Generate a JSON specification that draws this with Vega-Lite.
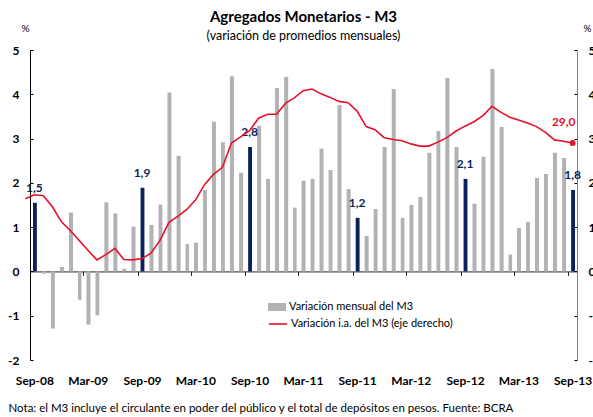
{
  "$schema": "https://vega.github.io/schema/vega-lite/v6.json",
  "width": 547,
  "height": 310,
  "autosize": {"type": "none"},
  "padding": {"left": 30, "top": 50, "right": 16, "bottom": 57},
  "background": "white",
  "title": {
    "text": "Agregados Monetarios - M3",
    "subtitle": "(variación de promedios mensuales)",
    "anchor": "middle",
    "frame": "group",
    "offset": -19,
    "font": "Lato",
    "fontSize": 15,
    "fontWeight": "bold",
    "color": "#000000",
    "subtitleFont": "Lato",
    "subtitleFontSize": 12.5,
    "subtitleColor": "#000000",
    "subtitlePadding": 5
  },
  "config": {"view": {"stroke": null}, "font": "Lato", "axis": {"grid": false}},
  "data": {
    "values": [
      {"mes": "2008-08-01", "mensual": null, "ia": 16.4},
      {"mes": "2008-09-01", "mensual": 1.55, "ia": 17.3, "etiqueta": "1,5"},
      {"mes": "2008-10-01", "mensual": -0.05, "ia": 17.1},
      {"mes": "2008-11-01", "mensual": -1.29, "ia": 14.6},
      {"mes": "2008-12-01", "mensual": 0.1, "ia": 11.2},
      {"mes": "2009-01-01", "mensual": 1.33, "ia": 9.2},
      {"mes": "2009-02-01", "mensual": -0.64, "ia": 7.0},
      {"mes": "2009-03-01", "mensual": -1.2, "ia": 4.8},
      {"mes": "2009-04-01", "mensual": -0.99, "ia": 2.6},
      {"mes": "2009-05-01", "mensual": 1.56, "ia": 3.8},
      {"mes": "2009-06-01", "mensual": 1.31, "ia": 5.2},
      {"mes": "2009-07-01", "mensual": 0.06, "ia": 2.7},
      {"mes": "2009-08-01", "mensual": 1.01, "ia": 2.6},
      {"mes": "2009-09-01", "mensual": 1.89, "ia": 2.9, "etiqueta": "1,9"},
      {"mes": "2009-10-01", "mensual": 1.05, "ia": 4.1},
      {"mes": "2009-11-01", "mensual": 1.51, "ia": 7.0},
      {"mes": "2009-12-01", "mensual": 4.04, "ia": 11.1},
      {"mes": "2010-01-01", "mensual": 2.61, "ia": 12.5},
      {"mes": "2010-02-01", "mensual": 0.62, "ia": 14.0},
      {"mes": "2010-03-01", "mensual": 0.65, "ia": 16.1},
      {"mes": "2010-04-01", "mensual": 1.84, "ia": 19.6},
      {"mes": "2010-05-01", "mensual": 3.38, "ia": 21.9},
      {"mes": "2010-06-01", "mensual": 2.92, "ia": 23.5},
      {"mes": "2010-07-01", "mensual": 4.41, "ia": 29.0},
      {"mes": "2010-08-01", "mensual": 2.23, "ia": 30.4},
      {"mes": "2010-09-01", "mensual": 2.81, "ia": 31.8, "etiqueta": "2,8"},
      {"mes": "2010-10-01", "mensual": 3.29, "ia": 34.6},
      {"mes": "2010-11-01", "mensual": 2.09, "ia": 35.5},
      {"mes": "2010-12-01", "mensual": 4.14, "ia": 35.5},
      {"mes": "2011-01-01", "mensual": 4.39, "ia": 38.0},
      {"mes": "2011-02-01", "mensual": 1.44, "ia": 39.2},
      {"mes": "2011-03-01", "mensual": 2.05, "ia": 40.8},
      {"mes": "2011-04-01", "mensual": 2.09, "ia": 41.2},
      {"mes": "2011-05-01", "mensual": 2.77, "ia": 40.1},
      {"mes": "2011-06-01", "mensual": 2.29, "ia": 39.3},
      {"mes": "2011-07-01", "mensual": 3.76, "ia": 38.4},
      {"mes": "2011-08-01", "mensual": 1.86, "ia": 38.1},
      {"mes": "2011-09-01", "mensual": 1.21, "ia": 36.2, "etiqueta": "1,2"},
      {"mes": "2011-10-01", "mensual": 0.8, "ia": 32.7},
      {"mes": "2011-11-01", "mensual": 1.41, "ia": 32.0},
      {"mes": "2011-12-01", "mensual": 2.81, "ia": 30.2},
      {"mes": "2012-01-01", "mensual": 4.12, "ia": 29.8},
      {"mes": "2012-02-01", "mensual": 1.21, "ia": 29.5},
      {"mes": "2012-03-01", "mensual": 1.5, "ia": 28.8},
      {"mes": "2012-04-01", "mensual": 1.68, "ia": 28.3},
      {"mes": "2012-05-01", "mensual": 2.68, "ia": 28.3},
      {"mes": "2012-06-01", "mensual": 3.17, "ia": 29.2},
      {"mes": "2012-07-01", "mensual": 4.37, "ia": 30.2},
      {"mes": "2012-08-01", "mensual": 2.81, "ia": 31.7},
      {"mes": "2012-09-01", "mensual": 2.09, "ia": 32.8, "etiqueta": "2,1"},
      {"mes": "2012-10-01", "mensual": 1.53, "ia": 33.8},
      {"mes": "2012-11-01", "mensual": 2.59, "ia": 35.2},
      {"mes": "2012-12-01", "mensual": 4.57, "ia": 37.3},
      {"mes": "2013-01-01", "mensual": 3.26, "ia": 35.9},
      {"mes": "2013-02-01", "mensual": 0.38, "ia": 34.8},
      {"mes": "2013-03-01", "mensual": 0.98, "ia": 34.2},
      {"mes": "2013-04-01", "mensual": 1.12, "ia": 33.5},
      {"mes": "2013-05-01", "mensual": 2.11, "ia": 32.7},
      {"mes": "2013-06-01", "mensual": 2.2, "ia": 31.4},
      {"mes": "2013-07-01", "mensual": 2.68, "ia": 29.7},
      {"mes": "2013-08-01", "mensual": 2.56, "ia": 29.4},
      {"mes": "2013-09-01", "mensual": 1.84, "ia": 29.0, "etiqueta": "1,8", "etiqueta_ia": "29,0"}
    ]
  },
  "layer": [
    {
      "mark": {"type": "bar", "width": {"band": 0.55}},
      "encoding": {
        "x": {
          "field": "mes", "type": "temporal", "timeUnit": "utcyearmonth",
          "scale": {"domain": [{"year": 2008, "month": 9, "date": 1, "utc": true}, {"year": 2013, "month": 10, "date": 1, "utc": true}]},
          "axis": {
            "orient": "bottom",
            "values": [
              {"year": 2008, "month": 9, "date": 16, "utc": true},
              {"year": 2009, "month": 3, "date": 16, "utc": true},
              {"year": 2009, "month": 9, "date": 16, "utc": true},
              {"year": 2010, "month": 3, "date": 16, "utc": true},
              {"year": 2010, "month": 9, "date": 16, "utc": true},
              {"year": 2011, "month": 3, "date": 16, "utc": true},
              {"year": 2011, "month": 9, "date": 16, "utc": true},
              {"year": 2012, "month": 3, "date": 16, "utc": true},
              {"year": 2012, "month": 9, "date": 16, "utc": true},
              {"year": 2013, "month": 3, "date": 16, "utc": true},
              {"year": 2013, "month": 9, "date": 16, "utc": true}
            ],
            "labelExpr": "utcFormat(datum.value, '%b-%y')",
            "ticks": false, "domain": false, "grid": false,
            "labelPadding": 15, "labelFontSize": 12, "labelFontWeight": "bold", "labelColor": "#000000",
            "labelFont": "Lato", "labelAngle": 0, "labelOverlap": false, "labelFlush": false,
            "title": "Nota: el M3 incluye el circulante en poder del público y el total de depósitos en pesos. Fuente: BCRA",
            "titleX": -22, "titleY": 51, "titleAlign": "left", "titleAnchor": "start", "titleBaseline": "alphabetic",
            "titleFontSize": 11.5, "titleFontWeight": "normal", "titleColor": "#000000", "titleFont": "Lato", "titleLimit": 600
          }
        },
        "y": {
          "field": "mensual", "type": "quantitative",
          "scale": {"domain": [-2, 5], "nice": false, "zero": false},
          "axis": {
            "orient": "left", "values": [-2, -1, 0, 1, 2, 3, 4, 5], "labelExpr": "'' + datum.value",
            "tickSize": -3, "tickColor": "#000000", "domainColor": "#000000", "grid": false,
            "labelPadding": 14, "labelFontSize": 12, "labelFontWeight": "bold", "labelColor": "#000000", "labelFont": "Lato",
            "title": "%", "titleAngle": 0, "titleX": -5, "titleY": -22, "titleFontSize": 10, "titleFontWeight": "normal",
            "titleAlign": "center", "titleBaseline": "middle", "titleColor": "#000000", "titleFont": "Lato"
          }
        },
        "color": {
          "datum": "Variación mensual del M3",
          "scale": {"range": ["#b2b2b2"]},
          "condition": {"test": "datum.etiqueta != null", "value": "#0b1f5c"},
          "legend": {
            "orient": "none", "legendX": 238, "legendY": 248, "title": null, "padding": 0,
            "symbolType": "M-1,-0.45H1V0.45H-1Z", "symbolSize": 324, "symbolStrokeWidth": 0,
            "labelFontSize": 11, "labelFont": "Lato", "labelColor": "#000000", "labelOffset": 3, "labelLimit": 400
          }
        }
      }
    },
    {
      "transform": [{"filter": "datum.etiqueta != null"}],
      "mark": {"type": "text", "fontWeight": "bold", "fontSize": 12, "font": "Lato", "color": "#0b1f5c", "dy": -15, "baseline": "middle", "align": "center"},
      "encoding": {
        "x": {"field": "mes", "type": "temporal", "timeUnit": "utcyearmonth", "bandPosition": 0.5,
          "scale": {"domain": [{"year": 2008, "month": 9, "date": 1, "utc": true}, {"year": 2013, "month": 10, "date": 1, "utc": true}]}, "axis": null},
        "y": {"field": "mensual", "type": "quantitative", "scale": {"domain": [-2, 5], "nice": false, "zero": false}, "axis": null},
        "text": {"field": "etiqueta"}
      }
    },
    {
      "mark": {"type": "line", "strokeWidth": 1.6},
      "encoding": {
        "x": {
          "field": "mes", "type": "temporal", "timeUnit": "utcyearmonth", "bandPosition": 0.5,
          "scale": {"domain": [{"year": 2008, "month": 9, "date": 1, "utc": true}, {"year": 2013, "month": 10, "date": 1, "utc": true}]},
          "axis": {
            "orient": "bottom", "offset": -88.57,
            "values": [
              {"year": 2008, "month": 9, "date": 1, "utc": true},
              {"year": 2009, "month": 3, "date": 1, "utc": true},
              {"year": 2009, "month": 9, "date": 1, "utc": true},
              {"year": 2010, "month": 3, "date": 1, "utc": true},
              {"year": 2010, "month": 9, "date": 1, "utc": true},
              {"year": 2011, "month": 3, "date": 1, "utc": true},
              {"year": 2011, "month": 9, "date": 1, "utc": true},
              {"year": 2012, "month": 3, "date": 1, "utc": true},
              {"year": 2012, "month": 9, "date": 1, "utc": true},
              {"year": 2013, "month": 3, "date": 1, "utc": true},
              {"year": 2013, "month": 9, "date": 1, "utc": true}
            ],
            "labels": false, "ticks": true, "tickSize": 4, "tickColor": "#222222",
            "domain": true, "domainColor": "#222222", "grid": false, "title": null
          }
        },
        "y": {
          "field": "ia", "type": "quantitative",
          "scale": {"domain": [-20, 50], "nice": false, "zero": false},
          "axis": {
            "orient": "right", "values": [-20, -10, 0, 10, 20, 30, 40, 50], "labelExpr": "'' + datum.value",
            "tickSize": -3, "tickColor": "#000000", "domainColor": "#808080", "grid": false,
            "labelPadding": 14, "labelFontSize": 12, "labelFontWeight": "bold", "labelColor": "#000000", "labelFont": "Lato", "labelAlign": "left",
            "title": "%", "titleAngle": 0, "titleX": 10, "titleY": -22, "titleFontSize": 10, "titleFontWeight": "normal",
            "titleAlign": "center", "titleBaseline": "middle", "titleColor": "#000000", "titleFont": "Lato"
          }
        },
        "stroke": {
          "datum": "Variación i.a. del M3 (eje derecho)",
          "scale": {"range": ["#e8102a"]},
          "legend": {
            "orient": "none", "legendX": 238, "legendY": 264, "title": null, "padding": 0,
            "symbolType": "stroke", "symbolSize": 324, "symbolStrokeWidth": 1.6,
            "labelFontSize": 11, "labelFont": "Lato", "labelColor": "#000000", "labelOffset": 3, "labelLimit": 400
          }
        }
      }
    },
    {
      "transform": [{"filter": "datum.etiqueta_ia != null"}],
      "mark": {"type": "point", "filled": true, "size": 35, "color": "#e8102a", "opacity": 1},
      "encoding": {
        "x": {"field": "mes", "type": "temporal", "timeUnit": "utcyearmonth", "bandPosition": 0.5,
          "scale": {"domain": [{"year": 2008, "month": 9, "date": 1, "utc": true}, {"year": 2013, "month": 10, "date": 1, "utc": true}]}, "axis": null},
        "y": {"field": "ia", "type": "quantitative", "scale": {"domain": [-20, 50], "nice": false, "zero": false}, "axis": null}
      }
    },
    {
      "transform": [{"filter": "datum.etiqueta_ia != null"}],
      "mark": {"type": "text", "fontWeight": "bold", "fontSize": 12, "font": "Lato", "color": "#e8102a", "dx": 3, "dy": -21, "baseline": "middle", "align": "right"},
      "encoding": {
        "x": {"field": "mes", "type": "temporal", "timeUnit": "utcyearmonth", "bandPosition": 0.5,
          "scale": {"domain": [{"year": 2008, "month": 9, "date": 1, "utc": true}, {"year": 2013, "month": 10, "date": 1, "utc": true}]}, "axis": null},
        "y": {"field": "ia", "type": "quantitative", "scale": {"domain": [-20, 50], "nice": false, "zero": false}, "axis": null},
        "text": {"field": "etiqueta_ia"}
      }
    }
  ],
  "resolve": {"scale": {"y": "independent"}, "axis": {"x": "independent"}}
}
